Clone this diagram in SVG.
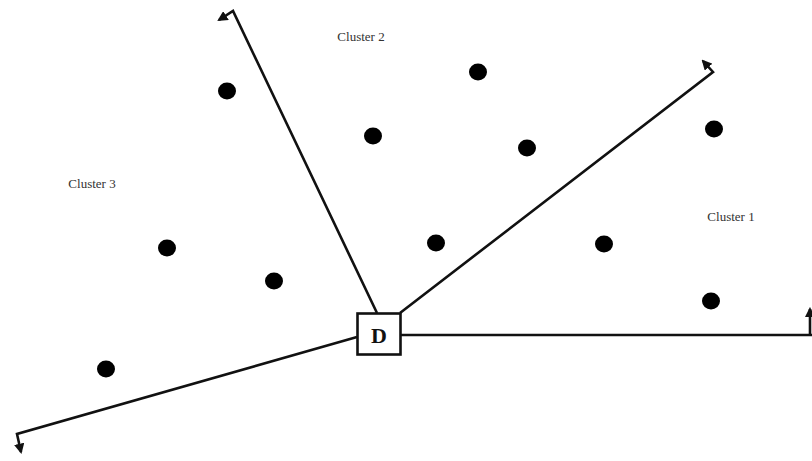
<svg xmlns="http://www.w3.org/2000/svg" width="812" height="461" viewBox="0 0 812 461">
<defs>
<style>
.ln{fill:none;stroke:#111;stroke-width:2.6;stroke-linejoin:miter}
.dot{fill:#000}
.lbl{font-family:"Liberation Serif",serif;font-size:13px;fill:#333;text-anchor:middle}
</style>
<marker id="tip" viewBox="0 0 10 10" refX="8" refY="5" markerWidth="4" markerHeight="4" orient="auto" markerUnits="strokeWidth">
<path d="M0,0 L10,5 L0,10 z" fill="#111"/>
</marker>
</defs>
<rect width="812" height="461" fill="#fff"/>
<g id="connectors">
<polyline class="ln" points="377,313 233,11 219,20" marker-end="url(#tip)"/>
<polyline class="ln" points="400,313 713,72 703,61" marker-end="url(#tip)"/>
<polyline class="ln" points="400,335 812,335"/>
<polyline class="ln" points="810,335 810,309" marker-end="url(#tip)"/>
<polyline class="ln" points="357,337 17,434 21,452" marker-end="url(#tip)"/>
</g>
<g id="D">
<rect x="357.5" y="313.5" width="43" height="41" fill="#fff" stroke="#111" stroke-width="2.6"/>
<text x="379" y="343" style="font-family:'Liberation Serif',serif;font-size:22px;font-weight:bold;text-anchor:middle;fill:#111">D</text>
</g>
<g id="points">
<ellipse class="dot" cx="227" cy="91" rx="9" ry="8.5"/>
<ellipse class="dot" cx="478" cy="72" rx="9" ry="8.5"/>
<ellipse class="dot" cx="373" cy="136" rx="9" ry="8.5"/>
<ellipse class="dot" cx="527" cy="148" rx="9" ry="8.5"/>
<ellipse class="dot" cx="714" cy="129" rx="9" ry="8.5"/>
<ellipse class="dot" cx="167" cy="248" rx="9" ry="8.5"/>
<ellipse class="dot" cx="274" cy="281" rx="9" ry="8.5"/>
<ellipse class="dot" cx="436" cy="243" rx="9" ry="8.5"/>
<ellipse class="dot" cx="604" cy="244" rx="9" ry="8.5"/>
<ellipse class="dot" cx="711" cy="301" rx="9" ry="8.5"/>
<ellipse class="dot" cx="106" cy="369" rx="9" ry="8.5"/>
</g>
<g id="labels">
<text class="lbl" x="361" y="41">Cluster 2</text>
<text class="lbl" x="92" y="188">Cluster 3</text>
<text class="lbl" x="731" y="221">Cluster 1</text>
</g>
</svg>
